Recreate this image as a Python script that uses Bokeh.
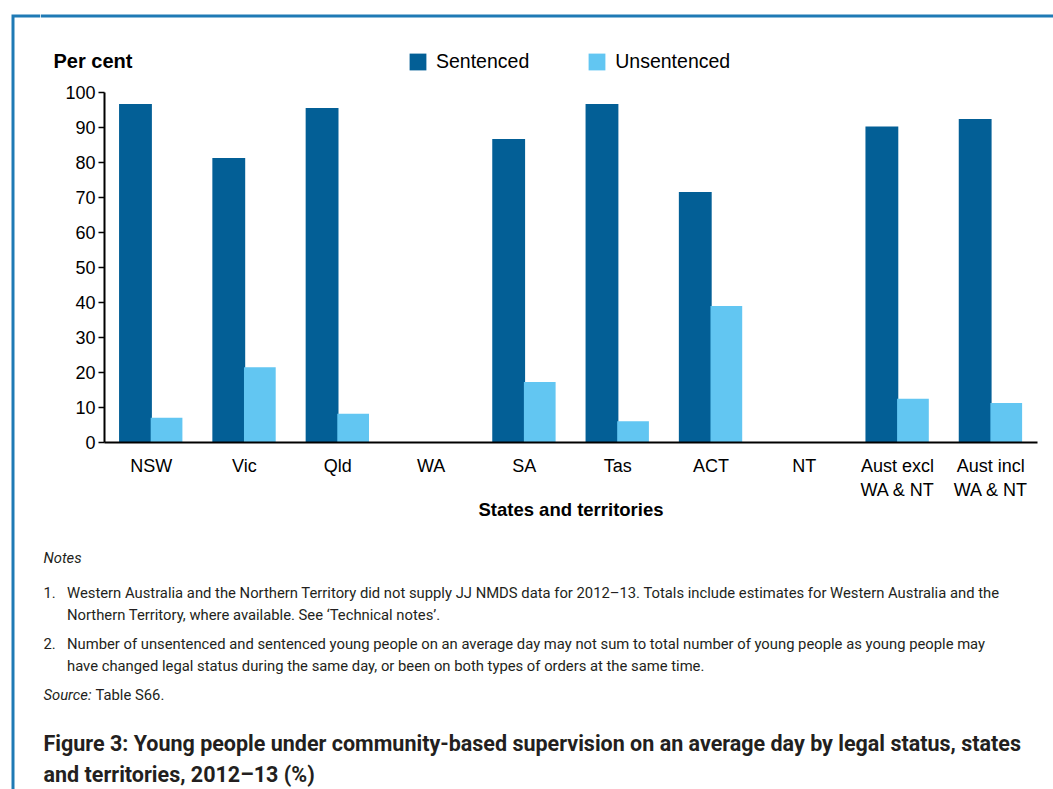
from bokeh.plotting import figure
from bokeh.models import Range1d, FactorRange, Legend, LegendItem, ColumnDataSource
from bokeh.transform import dodge
from bokeh.layouts import row, column
from bokeh.core.properties import value
from bokeh.embed import file_html
from bokeh.resources import INLINE

# ---- data ----
categories = ["NSW", "Vic", "Qld", "WA", "SA", "Tas", "ACT", "NT",
              "Aust excl\nWA & NT", "Aust incl\nWA & NT"]
sentenced = [96.7, 81.3, 95.6, float("nan"), 86.7, 96.7, 71.6, float("nan"), 90.3, 92.4]
unsentenced = [7.1, 21.5, 8.2, float("nan"), 17.3, 6.1, 39.0, float("nan"), 12.5, 11.3]
series_names = ["Sentenced", "Unsentenced"]
y_ticks = [0, 10, 20, 30, 40, 50, 60, 70, 80, 90, 100]
y_axis_title = "Per cent"
x_axis_title = "States and territories"

notes_heading = "Notes"
note_numbers = ["1.", "2."]
note_lines = [
    "Western Australia and the Northern Territory did not supply JJ NMDS data for 2012\u201313. Totals include estimates for Western Australia and the",
    "Northern Territory, where available. See \u2018Technical notes\u2019.",
    "Number of unsentenced and sentenced young people on an average day may not sum to total number of young people as young people may",
    "have changed legal status during the same day, or been on both types of orders at the same time.",
]
source_label = "Source:"
source_text = "Table S66."
title_lines = [
    "Figure 3: Young people under community-based supervision on an average day by legal status, states",
    "and territories, 2012\u201313 (%)",
]

DARK = "#035f96"
LIGHT = "#62c6f2"
BORDER = "#1f7ab5"
TXT = "#231f20"
FONT = "Liberation Sans"
NOTE_FONT = "Roboto"

TOTAL_W, TOTAL_H = 1053, 789
STRIP_W = 40
BODY_W = TOTAL_W - STRIP_W
HEAD_H = 80
MAIN_H = 450
NOTES_H = TOTAL_H - HEAD_H - MAIN_H


def no_align(f):
    if "frame_align" in f.properties():
        f.frame_align = False
    return f


def blank(w, h):
    f = figure(width=w, height=h, x_range=Range1d(0, w), y_range=Range1d(h, 0),
               output_backend="svg", toolbar_location=None,
               min_border=0, min_border_left=0, min_border_right=0,
               min_border_top=0, min_border_bottom=0)
    f.axis.visible = False
    f.grid.visible = False
    f.outline_line_color = None
    f.background_fill_color = "white"
    f.border_fill_color = "white"
    return no_align(f)


# ---- left strip with the frame border ----
strip = blank(STRIP_W, TOTAL_H)
strip.line(x=[STRIP_W, 12.5, 12.5], y=[15.5, 15.5, TOTAL_H], line_color=BORDER,
           line_width=3, line_join="miter")

# ---- header: border top line, "Per cent", legend ----
head = blank(BODY_W, HEAD_H)
head.line(x=[0, BODY_W], y=[15.5, 15.5], line_color=BORDER, line_width=3)
head.text(x=[53 - STRIP_W], y=[60], text=[y_axis_title], text_font=value(FONT),
          text_font_size="20px", text_font_style="bold", text_color="black",
          text_baseline="alphabetic")
# zero-size proxies so the legend can show the two bar colours
d1 = head.vbar(x=[0], top=[0], bottom=[0], width=0, fill_color=DARK, line_color=None)
d2 = head.vbar(x=[0], top=[0], bottom=[0], width=0, fill_color=LIGHT, line_color=None)
legend = Legend(items=[LegendItem(label=series_names[0], renderers=[d1]),
                       LegendItem(label=series_names[1], renderers=[d2])],
                orientation="horizontal", location=(407 - STRIP_W, HEAD_H - 73),
                glyph_width=21, glyph_height=21, label_standoff=8, spacing=57,
                padding=0, margin=0, label_text_font=FONT, label_text_font_size="19.5px",
                label_text_color="black", background_fill_alpha=0, border_line_color=None,
                label_height=21)
head.add_layout(legend, "center")

# ---- main chart ----
FL = 104 - STRIP_W            # frame left within main figure
FR = 1037 - STRIP_W           # frame right
FT = 92 - HEAD_H              # frame top
FB = 442 - HEAD_H             # frame bottom

src = ColumnDataSource(dict(cat=categories, s=sentenced, u=unsentenced))
p = figure(width=BODY_W, height=MAIN_H, x_range=FactorRange(*categories),
           y_range=Range1d(0, 100), output_backend="svg", toolbar_location=None,
           min_border_left=FL, min_border_top=FT, min_border_right=BODY_W - FR,
           min_border_bottom=MAIN_H - FB)
no_align(p)
p.outline_line_color = None
p.xgrid.grid_line_color = None
p.ygrid.grid_line_color = None
p.background_fill_color = "white"
p.border_fill_color = "white"

p.vbar(x=dodge("cat", -0.168, range=p.x_range), top="s", width=0.352, source=src,
       fill_color=DARK, line_color=None)
p.vbar(x=dodge("cat", 0.165, range=p.x_range), top="u", width=0.34, source=src,
       fill_color=LIGHT, line_color=None)

ya = p.yaxis[0]
ya.ticker = y_ticks
ya.axis_line_color = "black"
ya.axis_line_width = 2
ya.major_tick_line_color = "black"
ya.major_tick_line_width = 1.5
ya.major_tick_in = 0
ya.major_tick_out = 6
ya.minor_tick_line_color = None
ya.major_label_standoff = 3
ya.major_label_text_font = FONT
ya.major_label_text_font_size = "18px"
ya.major_label_text_color = "black"

xa = p.xaxis[0]
xa.axis_line_color = "black"
xa.axis_line_width = 2
xa.major_tick_line_color = None
xa.minor_tick_line_color = None
xa.major_label_standoff = 7
xa.major_label_text_font = FONT
xa.major_label_text_font_size = "18px"
xa.major_label_text_color = "black"
xa.axis_label = x_axis_title
xa.axis_label_text_font = FONT
xa.axis_label_text_font_size = "18.5px"
xa.axis_label_text_font_style = "bold"
xa.axis_label_text_color = "black"
xa.axis_label_standoff = -4

# ---- notes and figure title ----
notes = blank(BODY_W, NOTES_H)
Y0 = HEAD_H + MAIN_H


def put(x, y, text, size="14.8px", style="normal"):
    notes.text(x=[x - STRIP_W], y=[y - Y0], text=[text], text_font=value(NOTE_FONT),
               text_font_size=size, text_font_style=style, text_color=TXT,
               text_baseline="alphabetic")


put(43, 557, notes_heading, style="italic")
put(43, 592, note_numbers[0])
put(66.5, 592, note_lines[0])
put(66.5, 614, note_lines[1])
put(43, 643, note_numbers[1])
put(66.5, 643, note_lines[2])
put(66.5, 665, note_lines[3])
put(43, 694, source_label, style="italic")
put(95, 694, source_text)
put(43, 743, title_lines[0], size="21.5px", style="bold")
put(43, 774, title_lines[1], size="21.5px", style="bold")

layout = row(strip, column(head, p, notes, spacing=0), spacing=0)
open("out.html", "w").write(file_html(layout, INLINE))
